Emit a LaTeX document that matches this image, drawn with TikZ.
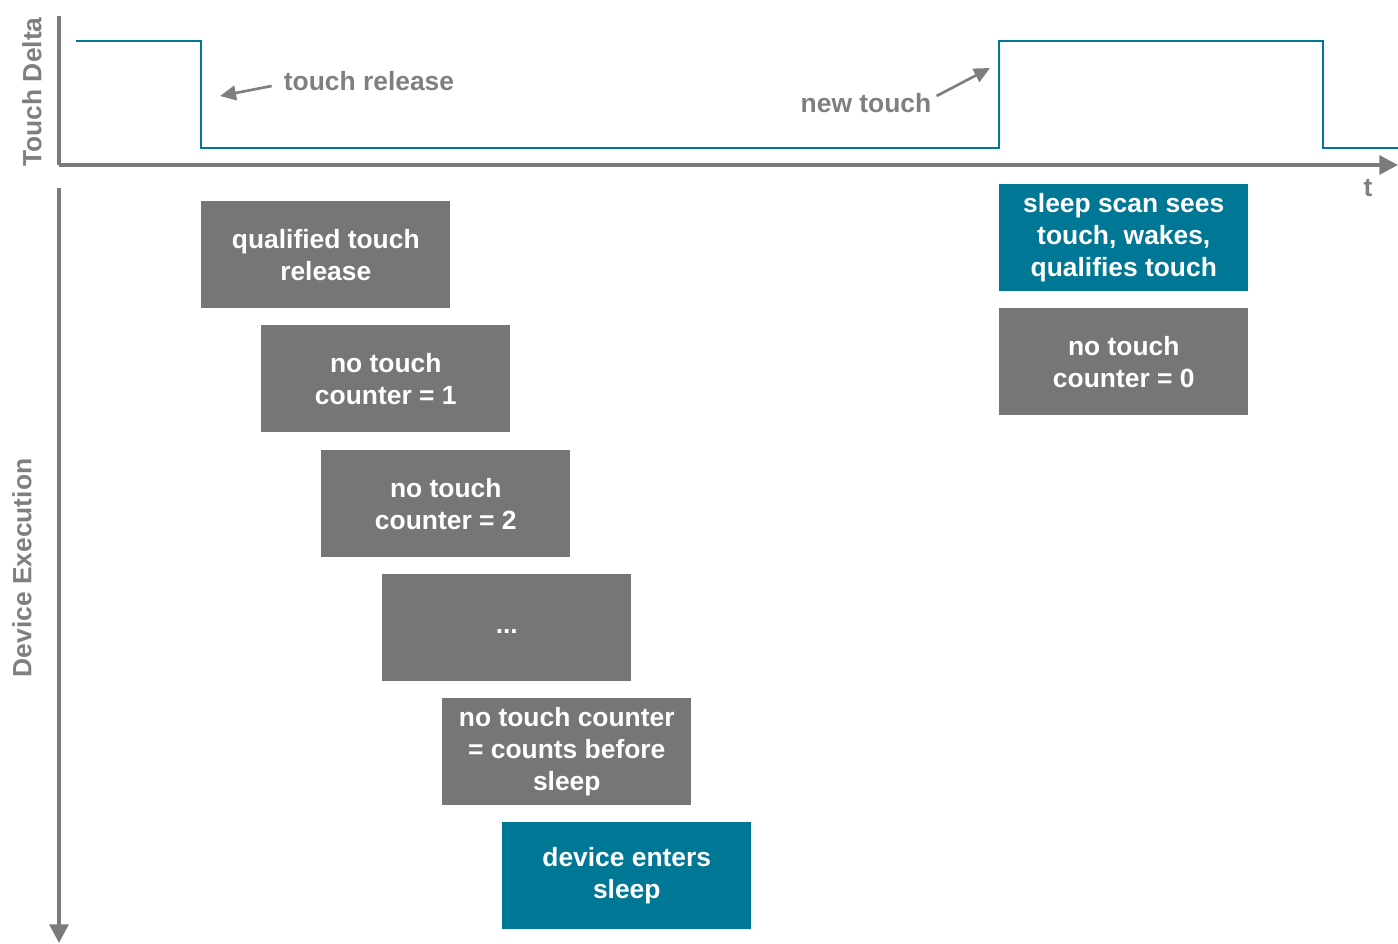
\documentclass[tikz,border=0pt]{standalone}
\usepackage{fontspec}
\setmainfont{Liberation Sans}
\usetikzlibrary{arrows.meta}
\definecolor{boxgray}{HTML}{777576}
\definecolor{titeal}{HTML}{007794}
\definecolor{axgray}{HTML}{7B7B7B}
\definecolor{labgray}{HTML}{7F7F7F}
\begin{document}
\begin{tikzpicture}[x=0.75pt,y=-0.75pt,
  axis/.style={draw=axgray,line width=3pt,-{Triangle[length=14pt,width=14pt]}},
  signal/.style={draw=titeal,line width=2.2pt},
  callout/.style={draw=labgray,line width=2pt,-{Triangle[length=12pt,width=11pt]}},
  lab/.style={text=labgray,font=\bfseries\fontsize{19.8}{24}\selectfont,inner sep=0pt},
  box/.style={minimum width=186.75pt,minimum height=80pt,inner sep=0pt,anchor=north west,
    align=center,text=white,font=\bfseries\fontsize{19.8}{24}\selectfont},
  graybox/.style={box,fill=boxgray},
  tealbox/.style={box,fill=titeal}]
\useasboundingbox (0,0) rectangle (1398,943);
% axes
\coordinate (o) at (59,165);
\coordinate (ytop) at (59,16);
\coordinate (xend) at (1398,165);
\coordinate (dtop) at (59,188);
\coordinate (dend) at (59,943);
\draw[draw=axgray,line width=3pt] (ytop) -- (o);
\draw[axis] (o) -- (xend);
\draw[axis] (dtop) -- (dend);
% signal
\draw[signal,line join=miter] (76,41) -- (201,41) -- (201,148) -- (999,148) -- (999,41) -- (1323,41) -- (1323,148) -- (1398,148);
% axis labels
\node[lab,rotate=90] (tdelta) at (32,92) {Touch Delta};
\node[lab,rotate=90] (dexec) at (22,568) {Device Execution};
\node[lab] (t) at (1368,188) {t};
% callouts
\node[lab] (rel) at (369,81) {touch release};
\coordinate (relpt) at (220,96);
\draw[callout] (rel.west) ++(-12,5) -- (relpt);
\node[lab] (new) at (866,103) {new touch};
\coordinate (newpt) at (990,68);
\draw[callout] (new.east) ++(5,-7) -- (newpt);
% boxes
\node[graybox] (b1) at (201,201) {qualified touch\\release};
\node[graybox] (b2) at (261,325) {no touch\\counter = 1};
\node[graybox] (b3) at (321,450) {no touch\\counter = 2};
\node[graybox] (b4) at (382,574) {\vphantom{Ag}...};
\node[graybox] (b5) at (442,698) {no touch counter\\= counts before\\sleep};
\node[tealbox] (b6) at (502,822) {device enters\\sleep};
\node[tealbox] (b7) at (999,184) {sleep scan sees\\touch, wakes,\\qualifies touch};
\node[graybox] (b8) at (999,308) {no touch\\counter = 0};
\end{tikzpicture}
\end{document}
